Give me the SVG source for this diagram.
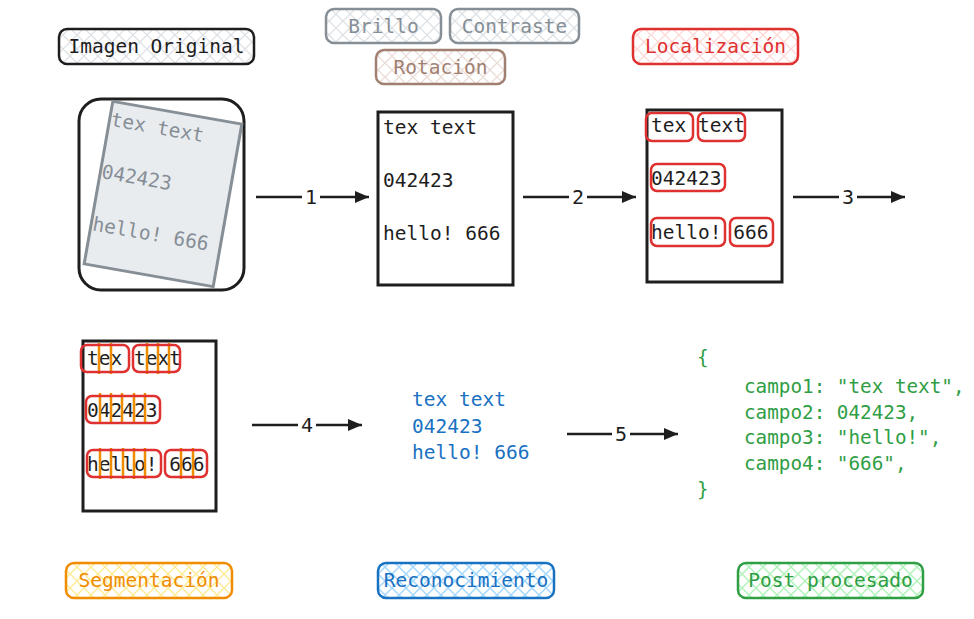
<svg xmlns="http://www.w3.org/2000/svg" width="974" height="619" viewBox="0 0 974 619">
<defs>
<pattern id="hGray" patternUnits="userSpaceOnUse" width="14" height="14"><path d="M0 0L14 14M14 0L0 14" stroke="#dee2e6" stroke-width="1.3"/></pattern>
<pattern id="hBrown" patternUnits="userSpaceOnUse" width="14" height="14"><path d="M0 0L14 14M14 0L0 14" stroke="#eaddd7" stroke-width="1.3"/></pattern>
<pattern id="hRed" patternUnits="userSpaceOnUse" width="14" height="14"><path d="M0 0L14 14M14 0L0 14" stroke="#ffd8d8" stroke-width="1.3"/></pattern>
<pattern id="hOrange" patternUnits="userSpaceOnUse" width="14" height="14"><path d="M0 0L14 14M14 0L0 14" stroke="#ffec99" stroke-width="1.5"/></pattern>
<pattern id="hBlue" patternUnits="userSpaceOnUse" width="14" height="14"><path d="M0 0L14 14M14 0L0 14" stroke="#a5d8ff" stroke-width="1.5"/></pattern>
<pattern id="hGreen" patternUnits="userSpaceOnUse" width="14" height="14"><path d="M0 0L14 14M14 0L0 14" stroke="#b2f2bb" stroke-width="1.5"/></pattern>
<marker id="ah" markerUnits="userSpaceOnUse" markerWidth="16" markerHeight="14" refX="14" refY="7" orient="auto"><path d="M0 1L14 7L0 13Z" fill="#1e1e1e"/></marker>
</defs>
<style>
text{font-family:"DejaVu Sans Mono","Liberation Mono",monospace;}
.lbl{font-size:19.5px;}
.lb{stroke-width:2.5;rx:8;}
.doc{font-size:19.5px;fill:#1e1e1e;}
.page{fill:#fff;stroke:#1e1e1e;stroke-width:3;}
.rb{fill:none;stroke:#e03131;stroke-width:2.5;}
.ol{stroke:#f08c00;stroke-width:2.5;}
.conn{stroke:#1e1e1e;stroke-width:2.5;fill:none;}
.num{font-size:20px;fill:#1e1e1e;text-anchor:middle;}
</style>

<g id="lbl-imagen"><rect class="lb" x="59" y="29" width="195" height="35" fill="url(#hGray)" stroke="#1e1e1e"/><text class="lbl" x="156.5" y="53" text-anchor="middle" fill="#1e1e1e">Imagen Original</text></g>
<g id="lbl-brillo"><rect class="lb" x="326" y="9" width="115" height="34" fill="url(#hGray)" stroke="#868e96"/><text class="lbl" x="383.5" y="32.5" text-anchor="middle" fill="#868e96">Brillo</text></g>
<g id="lbl-contraste"><rect class="lb" x="450" y="9" width="129" height="34" fill="url(#hGray)" stroke="#868e96"/><text class="lbl" x="514.5" y="32.5" text-anchor="middle" fill="#868e96">Contraste</text></g>
<g id="lbl-rotacion"><rect class="lb" x="376" y="50" width="129" height="34" fill="url(#hBrown)" stroke="#a18072"/><text class="lbl" x="440.5" y="73.5" text-anchor="middle" fill="#a18072">Rotación</text></g>
<g id="lbl-localizacion"><rect class="lb" x="633" y="29" width="165" height="35" fill="url(#hRed)" stroke="#e03131"/><text class="lbl" x="715.5" y="53" text-anchor="middle" fill="#e03131">Localización</text></g>

<g id="img-original">
<rect x="79" y="99" width="165" height="191" rx="22" fill="#fff" stroke="#1e1e1e" stroke-width="3"/>
<g transform="rotate(10 163 194)">
<rect x="97.5" y="111.5" width="131" height="165" fill="#e9ecef" stroke="#868e96" stroke-width="3"/>
<g fill="#868e96" font-size="19.5">
<text x="99" y="136">tex text</text>
<text x="99" y="189">042423</text>
<text x="99" y="242">hello! 666</text>
</g>
</g>
</g>

<g id="img-pre">
<rect class="page" x="378" y="112" width="135" height="173"/>
<text class="doc" x="383" y="134">tex text</text>
<text class="doc" x="383" y="187">042423</text>
<text class="doc" x="383" y="240">hello! 666</text>
</g>

<g id="img-loc">
<rect class="page" x="647" y="110" width="135" height="172"/>
<text class="doc" x="651" y="132">tex text</text>
<text class="doc" x="651" y="185">042423</text>
<text class="doc" x="651" y="239">hello! 666</text>
<rect class="rb" x="646" y="113" width="47" height="28" rx="6"/>
<rect class="rb" x="698" y="113" width="47" height="28" rx="6"/>
<rect class="rb" x="651" y="164" width="74" height="27" rx="6"/>
<rect class="rb" x="651" y="218" width="74" height="28" rx="6"/>
<rect class="rb" x="730" y="218" width="43" height="28" rx="6"/>
</g>

<g id="img-seg">
<rect class="page" x="83" y="341" width="133" height="170"/>
<text class="doc" x="87" y="365">tex text</text>
<text class="doc" x="87" y="417">042423</text>
<text class="doc" x="87" y="471">hello! 666</text>
<g class="ol">
<path d="M99 343V374M111 343V374M147 343V374M158 343V374M169 343V374"/>
<path d="M100 393V424M111 393V424M122 393V424M134 393V424M145 393V424"/>
<path d="M100 448V479M111 448V479M123 448V479M134 448V479M145 448V479M181 448V479M193 448V479"/>
</g>
<rect class="rb" x="81" y="345" width="48" height="27" rx="6"/>
<rect class="rb" x="133" y="345" width="47" height="27" rx="6"/>
<rect class="rb" x="86" y="396" width="74" height="27" rx="6"/>
<rect class="rb" x="87" y="450" width="74" height="27" rx="6"/>
<rect class="rb" x="165" y="450" width="42" height="27" rx="6"/>
</g>

<g id="txt-recon" fill="#1971c2" font-size="19.5">
<text x="412" y="406">tex text</text>
<text x="412" y="433">042423</text>
<text x="412" y="459">hello! 666</text>
</g>

<g id="txt-post" fill="#2f9e44" font-size="19.3">
<text x="697" y="364">{</text>
<text x="744" y="393">campo1: "tex text",</text>
<text x="744" y="419">campo2: 042423,</text>
<text x="744" y="444">campo3: "hello!",</text>
<text x="744" y="470">campo4: "666",</text>
<text x="697" y="496">}</text>
</g>

<g id="lbl-seg"><rect class="lb" x="66" y="563" width="166" height="35" fill="url(#hOrange)" stroke="#f08c00"/><text class="lbl" x="149" y="587" text-anchor="middle" fill="#f08c00">Segmentación</text></g>
<g id="lbl-recon"><rect class="lb" x="378" y="563" width="176" height="35" fill="url(#hBlue)" stroke="#1971c2"/><text class="lbl" x="466" y="587" text-anchor="middle" fill="#1971c2">Reconocimiento</text></g>
<g id="lbl-post"><rect class="lb" x="738" y="563" width="185" height="35" fill="url(#hGreen)" stroke="#2f9e44"/><text class="lbl" x="830.5" y="587" text-anchor="middle" fill="#2f9e44">Post procesado</text></g>

<g id="connectors">
<path class="conn" d="M256 197H302M320 197H369" marker-end="url(#ah)"/>
<text class="num" x="311" y="204">1</text>
<path class="conn" d="M523 197H569M587 197H636" marker-end="url(#ah)"/>
<text class="num" x="578" y="204">2</text>
<path class="conn" d="M793 197H839M857 197H905" marker-end="url(#ah)"/>
<text class="num" x="848" y="204">3</text>
<path class="conn" d="M252 425H298M316 425H362" marker-end="url(#ah)"/>
<text class="num" x="307" y="432">4</text>
<path class="conn" d="M567 434H612M630 434H678" marker-end="url(#ah)"/>
<text class="num" x="621" y="441">5</text>
</g>
</svg>
